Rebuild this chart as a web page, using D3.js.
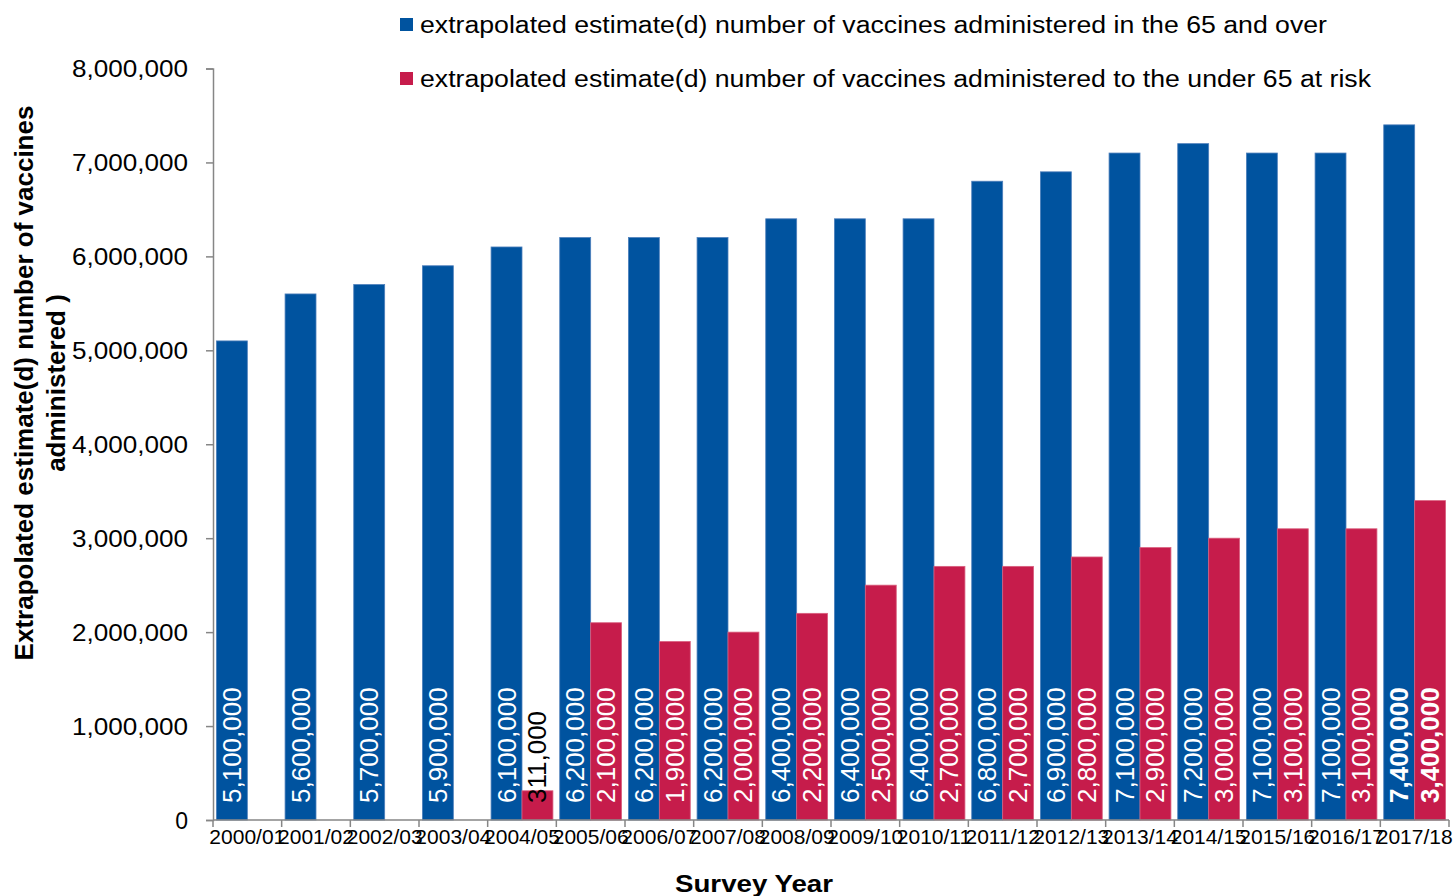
<!DOCTYPE html>
<html>
<head>
<meta charset="utf-8">
<script src="https://cdn.jsdelivr.net/npm/d3@7"></script>
<style>
  body { margin: 0; background: #fff; }
  text { font-family: Arial, "Liberation Sans", sans-serif; fill: #000; }
</style>
</head>
<body>
<script>
// survey years and the two series (number of vaccines administered)
var years = ["2000/01","2001/02","2002/03","2003/04","2004/05","2005/06","2006/07","2007/08","2008/09",
             "2009/10","2010/11","2011/12","2012/13","2013/14","2014/15","2015/16","2016/17","2017/18"];
var over65 = [5100000,5600000,5700000,5900000,6100000,6200000,6200000,6200000,6400000,
              6400000,6400000,6800000,6900000,7100000,7200000,7100000,7100000,7400000];
var under65AtRisk = [null,null,null,null,311000,2100000,1900000,2000000,2200000,
                     2500000,2700000,2700000,2800000,2900000,3000000,3100000,3100000,3400000];
var yTicks = [0,1000000,2000000,3000000,4000000,5000000,6000000,7000000,8000000];
var seriesNames = ["extrapolated estimate(d) number of vaccines administered in the 65 and over",
                   "extrapolated estimate(d) number of vaccines administered to the under 65 at risk"];
var colors = ["#00539f", "#c61c4b"];
var strokes = ["#4d7fbb", "#d9607f"];

var width = 1456, height = 896;
var svg = d3.select("body").append("svg")
    .attr("width", width)
    .attr("height", height);

var fmt = d3.format(",");

// scales
var x0 = d3.scaleBand().domain(years).range([213, 1449]).padding(0);
var x1 = d3.scaleBand().domain([0, 1]).range([0, x0.bandwidth()]).paddingInner(0).paddingOuter(0.11);
var y = d3.scaleLinear().domain([0, 8000000]).range([820, 68.5]);

// rows for drawing
var rows = [];
years.forEach(function(yr, i){
    rows.push({year: yr, s: 0, v: over65[i], last: i == years.length - 1});
    if (under65AtRisk[i] != null) rows.push({year: yr, s: 1, v: under65AtRisk[i], last: i == years.length - 1});
});

// bars
svg.append("g").selectAll("rect")
    .data(rows).enter().append("rect")
    .attr("x", function(d){ return x0(d.year) + x1(d.s); })
    .attr("y", function(d){ return y(d.v); })
    .attr("width", x1.bandwidth())
    .attr("height", function(d){ return y(0) - y(d.v); })
    .attr("fill", function(d){ return colors[d.s]; })
    .attr("stroke", function(d){ return strokes[d.s]; })
    .attr("stroke-width", 0.8);

// value labels, rotated, starting near the base of each bar
svg.append("g").selectAll("text")
    .data(rows).enter().append("text")
    .attr("transform", function(d){
        var cx = x0(d.year) + x1(d.s) + x1.bandwidth() / 2;
        return "translate(" + cx + "," + (y(0) - 17) + ") rotate(-90)";
    })
    .attr("dominant-baseline", "central")
    .style("font-size", "26px")
    .style("font-weight", function(d){ return d.last ? "bold" : "normal"; })
    .style("fill", function(d){ return d.v < 1000000 ? "#000" : "#fff"; })
    .text(function(d){ return fmt(d.v); });

// y axis
var yAxis = svg.append("g")
    .attr("transform", "translate(213,0)")
    .call(d3.axisLeft(y).tickValues(yTicks).tickSize(7).tickFormat(fmt));
yAxis.selectAll("text")
    .attr("x", -25)
    .attr("dy", "0.36em")
    .attr("textLength", function(d){ return d == 0 ? null : 116; })
    .attr("lengthAdjust", "spacingAndGlyphs")
    .style("font-size", "23px")
    .style("font-family", "Arial, 'Liberation Sans', sans-serif");
yAxis.select(".domain").attr("stroke", "#868686").attr("stroke-width", 1.5);
yAxis.selectAll(".tick line").attr("stroke", "#868686").attr("stroke-width", 1.5);

// x axis, ticks on the band boundaries
var xAxis = svg.append("g")
    .attr("transform", "translate(0,820)");
xAxis.append("line")
    .attr("x1", x0.range()[0]).attr("x2", x0.range()[1])
    .attr("stroke", "#868686").attr("stroke-width", 1.5);
var bounds = years.map(function(yr){ return x0(yr); }).concat([x0.range()[1]]);
xAxis.selectAll(".bt").data(bounds).enter().append("line")
    .attr("x1", function(d){ return d; }).attr("x2", function(d){ return d; })
    .attr("y1", 0).attr("y2", 7)
    .attr("stroke", "#868686").attr("stroke-width", 1.5);
xAxis.selectAll(".xl").data(years).enter().append("text")
    .attr("x", function(d){ return x0(d) + x0.bandwidth() / 2; })
    .attr("y", 24)
    .attr("text-anchor", "middle")
    .style("font-size", "21px")
    .text(function(d){ return d; });

// axis titles
svg.append("text")
    .attr("x", 754).attr("y", 892)
    .attr("text-anchor", "middle")
    .style("font-size", "24px").style("font-weight", "bold")
    .attr("textLength", 158).attr("lengthAdjust", "spacingAndGlyphs")
    .text("Survey Year");

var ytitle = svg.append("text")
    .attr("transform", "translate(33,383) rotate(-90)")
    .attr("text-anchor", "middle")
    .style("font-size", "26px").style("font-weight", "bold");
ytitle.append("tspan").attr("x", 0).attr("y", 0).text("Extrapolated estimate(d) number of vaccines");
ytitle.append("tspan").attr("x", 0).attr("y", 32).text("administered )");

// legend
var legendLengths = [907, 951];
var legend = svg.append("g").selectAll("g")
    .data(seriesNames).enter().append("g")
    .attr("transform", function(d, i){ return "translate(400," + (18 + i * 54) + ")"; });
legend.append("rect")
    .attr("width", 13).attr("height", 13)
    .attr("fill", function(d, i){ return colors[i]; });
legend.append("text")
    .attr("x", 20).attr("y", 15)
    .style("font-size", "23px")
    .attr("textLength", function(d, i){ return legendLengths[i]; })
    .attr("lengthAdjust", "spacingAndGlyphs")
    .text(function(d){ return d; });
</script>
</body>
</html>
